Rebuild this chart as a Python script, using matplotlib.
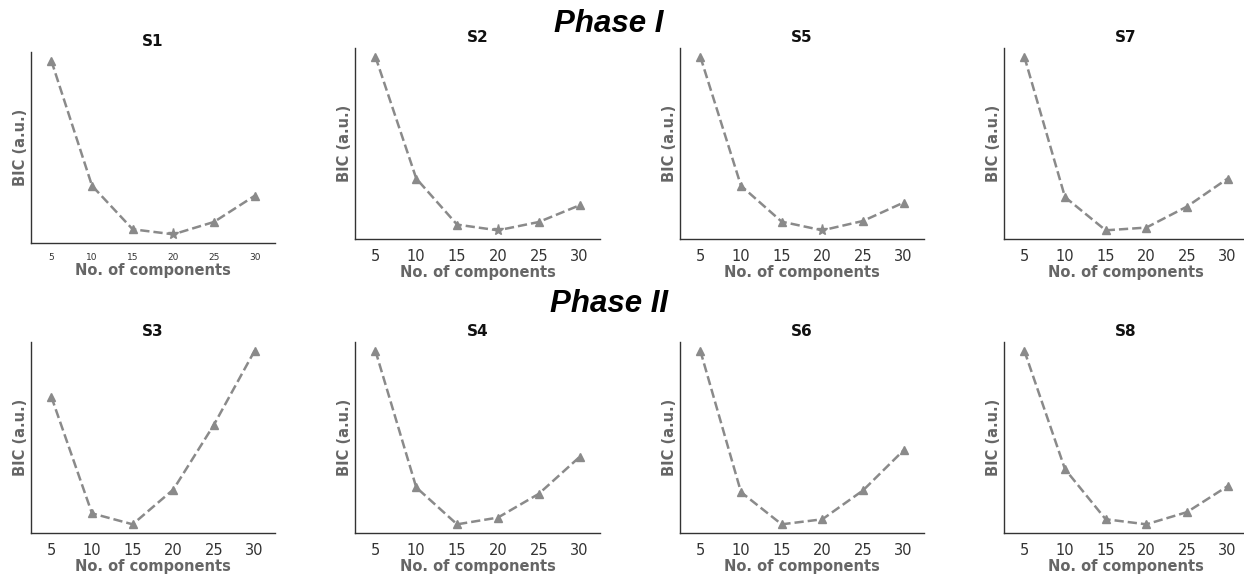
import matplotlib
matplotlib.use("Agg")
import matplotlib.pyplot as plt

plt.rcParams['font.family'] = ['DejaVu Sans']

# number of components tested
n_comp = [5, 10, 15, 20, 25, 30]

# BIC values (arbitrary units)
bic_s1 = [183.3, 59.0, 15.7, 10.7, 23.0, 49.0]
bic_s2 = [182.3, 60.7, 14.7, 9.0, 17.3, 34.0]
bic_s5 = [182.3, 54.0, 18.3, 9.7, 19.0, 37.3]
bic_s7 = [182.3, 44.0, 11.3, 14.0, 34.7, 62.3]
bic_s3 = [134.0, 20.0, 9.3, 43.3, 106.7, 179.0]
bic_s4 = [181.7, 45.7, 9.0, 15.7, 39.3, 76.0]
bic_s6 = [181.7, 41.0, 9.0, 14.0, 42.7, 82.7]
bic_s8 = [181.7, 65.0, 15.7, 10.7, 22.7, 48.3]

subjects = ["S1", "S2", "S5", "S7", "S3", "S4", "S6", "S8"]
series = [bic_s1, bic_s2, bic_s5, bic_s7, bic_s3, bic_s4, bic_s6, bic_s8]
# panels where the selected model is drawn with a star
star_panels = ["S1", "S2", "S5"]

W, H = 1244, 578
fig = plt.figure(figsize=(W / 100, H / 100), dpi=100)

# axes boxes in pixels: left, top, right, bottom
boxes = [(31, 52, 275, 243), (355, 48, 600, 239), (680, 48, 924, 239), (1004, 48, 1248, 239),
         (31, 342, 275, 533), (355, 342, 600, 533), (680, 342, 924, 533), (1004, 342, 1248, 533)]

line_col = "#8a8a8a"
for name, vals, (l, t, r, b) in zip(subjects, series, boxes):
    ax = fig.add_axes([l / W, 1 - b / H, (r - l) / W, (b - t) / H])
    ax.plot(n_comp, vals, "--", color=line_col, lw=1.8, marker="^", ms=6,
            markevery=[i for i in range(len(vals)) if not (name in star_panels and n_comp[i] == 20)])
    if name in star_panels:
        i = n_comp.index(20)
        ax.plot(n_comp[i], vals[i], "*", color=line_col, ms=8)
    ax.set_xlim(2.5, 32.5)
    ax.set_xticks(n_comp)
    ax.set_yticks([])
    for s in ["top", "right"]:
        ax.spines[s].set_visible(False)
    for s in ["left", "bottom"]:
        ax.spines[s].set_color("#333333")
        ax.spines[s].set_linewidth(1.0)
    fs = 6.5 if name == "S1" else 10.5
    ax.tick_params(axis="x", length=0, pad=7, labelsize=fs, labelcolor="#333333")
    ax.set_title(name, fontsize=11, fontweight="bold", color="#111111", pad=4)
    ax.set_xlabel("No. of components", fontsize=10.5, fontweight="bold", color="#666666", labelpad=1)
    ax.set_ylabel("BIC (a.u.)", fontsize=10.5, fontweight="bold", color="#666666", labelpad=2)

fig.text(609 / W, 1 - 24 / H, "Phase I", ha="center", va="center", fontsize=22.5,
         fontweight="bold", style="italic", family="Liberation Sans")
fig.text(609 / W, 1 - 304 / H, "Phase II", ha="center", va="center", fontsize=22.5,
         fontweight="bold", style="italic", family="Liberation Sans")

fig.savefig("out.png", dpi=100)
